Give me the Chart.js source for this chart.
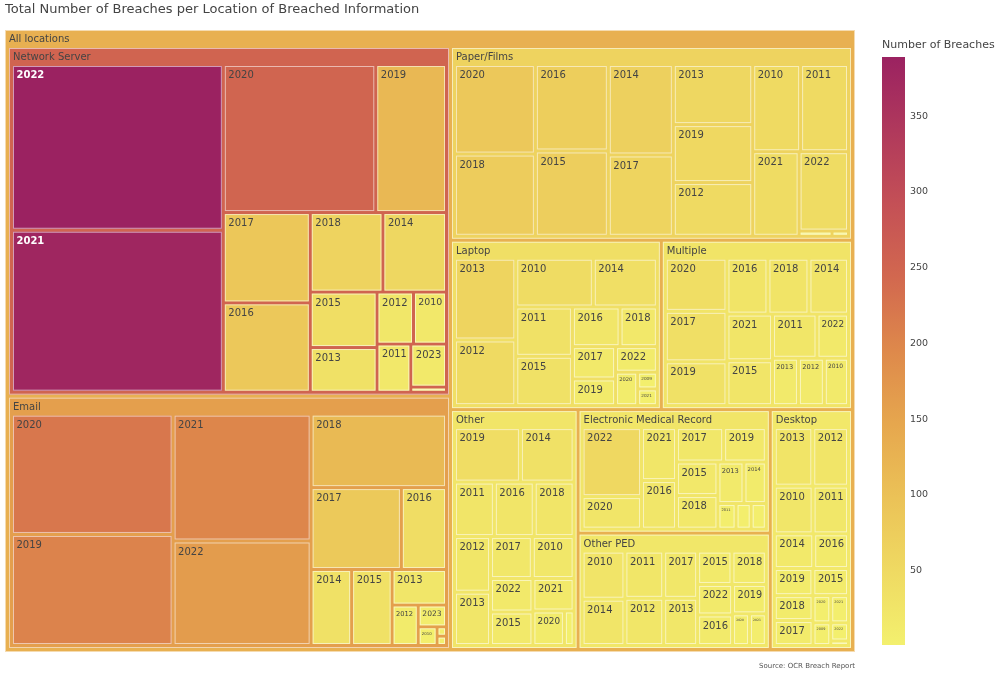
<!DOCTYPE html>
<html>
<head>
<meta charset="utf-8">
<script src="https://cdn.jsdelivr.net/npm/chart.js@4.4.0/dist/chart.umd.min.js"></script>
<style>
html,body{margin:0;padding:0;background:#fff;}
#wrap{position:relative;width:1000px;height:673px;overflow:hidden;}
#tm{position:absolute;left:0;top:0;}
#cb{position:absolute;left:860px;top:0;}
</style>
</head>
<body>
<div id="wrap">
<canvas id="tm" width="1000" height="673"></canvas>
<canvas id="cb" width="140" height="673"></canvas>
</div>
<script>
// ---------------- DATA ----------------
const chartTitle = 'Total Number of Breaches per Location of Breached Information';
const sourceNote = 'Source: OCR Breach Report';
const colorbarTitle = 'Number of Breaches';
const rootLabel = 'All locations';
const locations = ['Network Server','Email','Paper/Films','Laptop','Multiple','Other','Electronic Medical Record','Other PED','Desktop'];

const networkServerYears    = ['2022','2021','2020','2019','2017','2016','2018','2014','2015','2013','2012','2010','2011','2023','2009'];
const networkServerBreaches = [389,380,250,116,87,86,64,56,41,33,21,19,18,17,2];

const emailYears    = ['2020','2019','2021','2022','2018','2017','2016','2014','2015','2013','2012','2023','2010','2011','2009'];
const emailBreaches = [221,204,199,164,113,84,42,35,35,22,12,7,4,1,1];

const paperFilmsYears    = ['2020','2018','2016','2015','2014','2017','2013','2019','2012','2010','2011','2021','2022','2009','2023'];
const paperFilmsBreaches = [85,78,74,73,69,62,56,54,50,49,49,46,46,2,1];

const laptopYears    = ['2013','2012','2010','2014','2011','2015','2016','2018','2017','2019','2022','2020','2009','2021'];
const laptopBreaches = [61,49,46,38,34,34,23,18,17,14,13,9,4,4];

const multipleYears    = ['2020','2017','2019','2016','2018','2014','2021','2015','2011','2022','2013','2012','2010'];
const multipleBreaches = [40,38,33,28,28,27,26,25,24,17,15,15,14];

const otherYears    = ['2019','2014','2011','2016','2018','2012','2013','2017','2010','2022','2015','2021','2020','2009'];
const otherBreaches = [43,35,26,26,26,24,23,21,21,17,17,16,13,4];

const emrYears    = ['2022','2020','2021','2016','2017','2019','2015','2018','2013','2014','2011','2023','2012'];
const emrBreaches = [53,25,24,22,21,19,18,18,14,12,6,5,5];

const otherPedYears    = ['2010','2014','2011','2012','2017','2013','2015','2018','2022','2016','2019','2020','2021'];
const otherPedBreaches = [27,26,24,24,21,21,15,15,14,14,13,7,7];

const desktopYears    = ['2013','2012','2010','2011','2014','2016','2019','2015','2018','2017','2020','2021','2009','2022','2023'];
const desktopBreaches = [28,26,23,21,17,15,13,12,12,12,6,6,5,4,1];

const colorbarTicks = [50,100,150,200,250,300,350];

// ---------------- STYLE ----------------
const FONT = '"DejaVu Sans", Verdana, sans-serif';
const COLORSCALE = [[0,'#f3f06e'],[0.125,'#efda62'],[0.25,'#ebc257'],[0.375,'#e6a74e'],[0.5,'#de894b'],[0.625,'#d2684f'],[0.75,'#c45056'],[0.875,'#b0395c'],[1,'#9b2261']];
const PAD_TOP = 18, PAD_SIDE = 4, PAD_INNER = 3;
const LABEL_SIZE = 10, HEADER_SIZE = 10;

Chart.defaults.font.family = FONT;

// ---------------- HIERARCHY ----------------
const groupSeries = [
  [networkServerYears, networkServerBreaches],
  [emailYears, emailBreaches],
  [paperFilmsYears, paperFilmsBreaches],
  [laptopYears, laptopBreaches],
  [multipleYears, multipleBreaches],
  [otherYears, otherBreaches],
  [emrYears, emrBreaches],
  [otherPedYears, otherPedBreaches],
  [desktopYears, desktopBreaches]
];

function buildTree() {
  const cats = locations.map((name, gi) => {
    const [yrs, vals] = groupSeries[gi];
    const kids = yrs.map((y, i) => ({name: y, value: vals[i], color: vals[i]}));
    kids.sort((a, b) => b.value - a.value);
    const value = kids.reduce((s, k) => s + k.value, 0);
    const color = kids.reduce((s, k) => s + k.value * k.value, 0) / value;
    return {name, value, color, children: kids, header: true};
  });
  cats.sort((a, b) => b.value - a.value);
  const total = cats.reduce((s, c) => s + c.value, 0);
  const rootColor = cats.reduce((s, c) => s + c.color * c.value, 0) / total;
  return {name: rootLabel, value: total, color: rootColor, children: cats, header: true};
}

const tree = buildTree();
const allColors = [];
(function collect(n){ allColors.push(n.color); if (n.children) n.children.forEach(collect); })(tree);
const cmin = Math.min(...allColors);
const cmax = Math.max(...allColors);

function hexToRgb(h){ return [parseInt(h.slice(1,3),16), parseInt(h.slice(3,5),16), parseInt(h.slice(5,7),16)]; }
const SCALE_RGB = COLORSCALE.map(([t, c]) => [t, hexToRgb(c)]);
function colorFor(v) {
  let t = (v - cmin) / (cmax - cmin);
  t = Math.max(0, Math.min(1, t));
  for (let i = 1; i < SCALE_RGB.length; i++) {
    const [t1, c1] = SCALE_RGB[i], [t0, c0] = SCALE_RGB[i-1];
    if (t <= t1) {
      const f = (t - t0) / (t1 - t0);
      return [0,1,2].map(k => Math.round(c0[k] + (c1[k] - c0[k]) * f));
    }
  }
  return SCALE_RGB[SCALE_RGB.length-1][1];
}

// ---------------- SQUARIFY (d3-hierarchy style, ratio 1) ----------------
function dice(row, total, x0, y0, x1, y1) {
  const k = total ? (x1 - x0) / total : 0; let x = x0;
  row.forEach(n => { n.y0 = y0; n.y1 = y1; n.x0 = x; x += n.value * k; n.x1 = x; });
}
function slice(row, total, x0, y0, x1, y1) {
  const k = total ? (y1 - y0) / total : 0; let y = y0;
  row.forEach(n => { n.x0 = x0; n.x1 = x1; n.y0 = y; y += n.value * k; n.y1 = y; });
}
function squarify(parent, x0, y0, x1, y1) {
  const nodes = parent.children, n = nodes.length;
  let i0 = 0, i1 = 0, value = parent.value;
  while (i0 < n) {
    const dx = x1 - x0, dy = y1 - y0;
    let sumValue;
    do sumValue = nodes[i1++].value; while (!sumValue && i1 < n);
    let minValue = sumValue, maxValue = sumValue;
    const alpha = Math.max(dy / dx, dx / dy) / value;
    let beta = sumValue * sumValue * alpha;
    let minRatio = Math.max(maxValue / beta, beta / minValue);
    for (; i1 < n; ++i1) {
      const nv = nodes[i1].value;
      sumValue += nv;
      if (nv < minValue) minValue = nv;
      if (nv > maxValue) maxValue = nv;
      beta = sumValue * sumValue * alpha;
      const newRatio = Math.max(maxValue / beta, beta / minValue);
      if (newRatio > minRatio) { sumValue -= nv; break; }
      minRatio = newRatio;
    }
    const row = nodes.slice(i0, i1);
    if (dx < dy) {
      const yy = value ? y0 + dy * sumValue / value : y1;
      dice(row, sumValue, x0, y0, x1, yy); y0 = yy;
    } else {
      const xx = value ? x0 + dx * sumValue / value : x1;
      slice(row, sumValue, x0, y0, xx, y1); x0 = xx;
    }
    value -= sumValue; i0 = i1;
  }
}
function positionNode(node, p) {
  let x0 = node.x0 + p, y0 = node.y0 + p, x1 = node.x1 - p, y1 = node.y1 - p;
  if (x1 < x0) x0 = x1 = (x0 + x1) / 2;
  if (y1 < y0) y0 = y1 = (y0 + y1) / 2;
  node.x0 = x0; node.y0 = y0; node.x1 = x1; node.y1 = y1;
  if (node.children) {
    const q = PAD_INNER / 2;
    let cx0 = x0 + PAD_SIDE - q, cy0 = y0 + PAD_TOP - q, cx1 = x1 - PAD_SIDE + q, cy1 = y1 - PAD_SIDE + q;
    if (cx1 < cx0) cx0 = cx1 = (cx0 + cx1) / 2;
    if (cy1 < cy0) cy0 = cy1 = (cy0 + cy1) / 2;
    squarify(node, cx0, cy0, cx1, cy1);
    node.children.forEach(c => positionNode(c, q));
  }
}

// ---------------- TREEMAP PLUGIN ----------------
const treemapPlugin = {
  id: 'treemapCells',
  afterDatasetsDraw(chart) {
    const {ctx, chartArea, scales} = chart;
    const xs = scales.x, ys = scales.y;
    const W = chartArea.right - chartArea.left, H = chartArea.bottom - chartArea.top;
    tree.x0 = 0; tree.y0 = 0; tree.x1 = W; tree.y1 = H;
    positionNode(tree, 0);
    const cells = [];
    (function walk(n){ cells.push(n); if (n.children) n.children.forEach(walk); })(tree);
    ctx.save();
    cells.forEach(n => {
      const X0 = xs.getPixelForValue(n.x0 / W), X1 = xs.getPixelForValue(n.x1 / W);
      const Y0 = ys.getPixelForValue(n.y0 / H), Y1 = ys.getPixelForValue(n.y1 / H);
      const w = X1 - X0, h = Y1 - Y0;
      if (w <= 0 || h <= 0) return;
      const rgb = colorFor(n.color);
      ctx.fillStyle = `rgb(${rgb[0]},${rgb[1]},${rgb[2]})`;
      ctx.fillRect(X0, Y0, w, h);
      ctx.strokeStyle = 'rgba(255,255,255,0.55)';
      ctx.lineWidth = 1;
      ctx.strokeRect(X0 + 0.5, Y0 + 0.5, Math.max(0, w - 1), Math.max(0, h - 1));
      const bright = (rgb[0] * 299 + rgb[1] * 587 + rgb[2] * 114) / 1000;
      const txtColor = bright >= 120 ? '#444' : '#fff';
      ctx.save();
      ctx.beginPath(); ctx.rect(X0, Y0, w, h); ctx.clip();
      ctx.fillStyle = txtColor;
      ctx.textBaseline = 'middle';
      ctx.textAlign = 'left';
      if (n.header) {
        ctx.font = `${HEADER_SIZE}px ${FONT}`;
        ctx.fillText(n.name, X0 + 4, Y0 + 9.5);
      } else {
        const weight = txtColor === '#fff' ? 'bold ' : '';
        ctx.font = `${weight}${LABEL_SIZE}px ${FONT}`;
        const tw = ctx.measureText(n.name).width;
        const s = Math.min(1, (w - 6) / tw, (h - 4) / 13);
        const fs = LABEL_SIZE * s;
        if (fs >= 3) {
          ctx.font = `${weight}${fs}px ${FONT}`;
          ctx.fillText(n.name, X0 + 3.5 * Math.max(s, 0.6), Y0 + 3 + 6.5 * s);
        }
      }
      ctx.restore();
    });
    ctx.restore();
  }
};

new Chart(document.getElementById('tm'), {
  type: 'scatter',
  data: { datasets: [{ data: [] }] },
  options: {
    responsive: false,
    animation: false,
    devicePixelRatio: 1,
    layout: { padding: { left: 5, right: 145, top: 0, bottom: 0 } },
    scales: {
      x: { type: 'linear', min: 0, max: 1, display: false },
      y: { type: 'linear', min: 0, max: 1, reverse: true, display: false }
    },
    plugins: {
      legend: { display: false },
      tooltip: { enabled: false },
      title: { display: true, text: chartTitle, align: 'start', color: '#444',
               font: { family: FONT, size: 13, weight: 'normal' }, padding: { top: 2, bottom: 12.4 } },
      subtitle: { display: true, text: sourceNote, position: 'bottom', align: 'end', color: '#555',
                  font: { family: FONT, size: 7, weight: 'normal' }, padding: { top: 10, bottom: 2.6 } }
    }
  },
  plugins: [treemapPlugin]
});

// ---------------- COLORBAR ----------------
new Chart(document.getElementById('cb'), {
  type: 'bar',
  data: {
    labels: [''],
    datasets: [{
      data: [[cmin, cmax]],
      backgroundColor: (c) => {
        const chart = c.chart;
        if (!chart.chartArea) return COLORSCALE[0][1];
        const ys = chart.scales.y;
        const g = chart.ctx.createLinearGradient(0, ys.getPixelForValue(cmin), 0, ys.getPixelForValue(cmax));
        COLORSCALE.forEach(([t, col]) => g.addColorStop(t, col));
        return g;
      },
      borderWidth: 0,
      barPercentage: 1,
      categoryPercentage: 1
    }]
  },
  options: {
    responsive: false,
    animation: false,
    devicePixelRatio: 1,
    layout: { padding: { left: 22, right: 0, top: 0, bottom: 28 } },
    scales: {
      x: { display: false },
      y: {
        position: 'right', min: cmin, max: cmax,
        grid: { display: false, drawTicks: false }, border: { display: false },
        ticks: { stepSize: 50, padding: 5, color: '#444', autoSkip: false, font: { family: FONT, size: 9.5 } },
        afterBuildTicks: (s) => { s.ticks = colorbarTicks.map(v => ({ value: v })); },
        afterFit: (s) => { s.width = 95; }
      }
    },
    plugins: {
      legend: { display: false },
      tooltip: { enabled: false },
      title: { display: true, text: colorbarTitle, align: 'start', color: '#444',
               font: { family: FONT, size: 11, weight: 'normal' }, padding: { top: 38.4, bottom: 5.4 } }
    }
  }
});
</script>
</body>
</html>
